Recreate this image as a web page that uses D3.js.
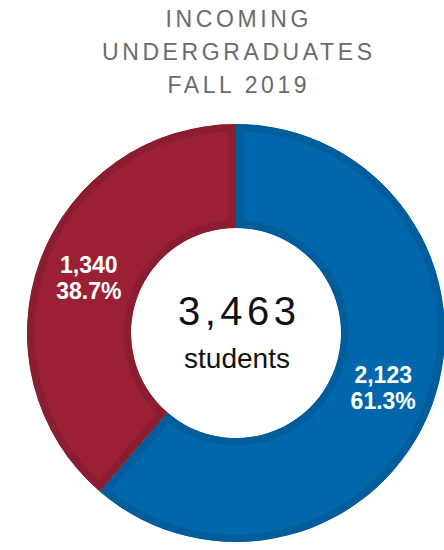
<!DOCTYPE html>
<html>
<head>
<meta charset="utf-8">
<script src="https://cdn.jsdelivr.net/npm/d3@7"></script>
<style>
  html, body { margin: 0; padding: 0; background: #fff; }
  svg { display: block; }
</style>
</head>
<body>
<svg id="chart" width="444" height="550"></svg>
<script>
// Data
const titleLines = ["INCOMING", "UNDERGRADUATES", "FALL 2019"];
const categories = ["Segment A", "Segment B"];
const values = [2123, 1340];
const fillColors = ["#0067AC", "#9C2035"];
const edgeColors = ["#005D9C", "#8A1D2F"];
const centerUnit = "students";

const W = 444, H = 550;
const cx = 236, cy = 333;
const rOuter = 209, rInner = 105;
const font = "'Liberation Sans', Arial, sans-serif";

const svg = d3.select("#chart");

// Title
const titleSpacing = 3.6;
const titleBaselines = [27, 60, 93];
titleLines.forEach((t, i) => {
  svg.append("text")
    .attr("x", 237 + titleSpacing / 2)
    .attr("y", titleBaselines[i])
    .attr("text-anchor", "middle")
    .attr("font-family", font)
    .attr("font-size", 23)
    .attr("letter-spacing", titleSpacing + "px")
    .attr("fill", "#6b6b6b")
    .text(t);
});

const total = d3.sum(values);
const data = categories.map((c, i) => ({ category: c, value: values[i], i }));

const pie = d3.pie().value(d => d.value).sort(null);
const arc = d3.arc().innerRadius(rInner).outerRadius(rOuter);
const arcs = pie(data);

const defs = svg.append("defs");
const g = svg.append("g").attr("transform", `translate(${cx},${cy})`);

arcs.forEach((a, k) => {
  defs.append("clipPath").attr("id", "clip" + k)
    .append("path").attr("d", arc(a));
});

g.selectAll("path.slice").data(arcs).join("path")
  .attr("class", "slice")
  .attr("d", arc)
  .attr("fill", d => fillColors[d.data.i])
  .attr("stroke", d => edgeColors[d.data.i])
  .attr("stroke-width", 15)
  .attr("stroke-linejoin", "miter")
  .attr("clip-path", (d, k) => `url(#clip${k})`);

// Labels
const fmt = d3.format(",");
const pfmt = d3.format(".1%");
const labels = g.selectAll("g.lab").data(arcs).join("g")
  .attr("class", "lab")
  .attr("transform", d => `translate(${arc.centroid(d)})`);
labels.append("text")
  .attr("y", -5)
  .attr("text-anchor", "middle")
  .attr("font-family", font)
  .attr("font-weight", "bold")
  .attr("font-size", 23)
  .attr("fill", "#fff")
  .text(d => fmt(d.data.value));
labels.append("text")
  .attr("y", 21)
  .attr("text-anchor", "middle")
  .attr("font-family", font)
  .attr("font-weight", "bold")
  .attr("font-size", 23)
  .attr("fill", "#fff")
  .text(d => pfmt(d.data.value / total));

// Center text
svg.append("text")
  .attr("x", cx + 1 + 2.25)
  .attr("y", 325)
  .attr("text-anchor", "middle")
  .attr("font-family", font)
  .attr("font-size", 40)
  .attr("letter-spacing", "4.5px")
  .attr("fill", "#111")
  .text(fmt(total));
svg.append("text")
  .attr("x", cx + 1)
  .attr("y", 368)
  .attr("text-anchor", "middle")
  .attr("font-family", font)
  .attr("font-size", 28)
  .attr("fill", "#111")
  .text(centerUnit);
</script>
</body>
</html>
